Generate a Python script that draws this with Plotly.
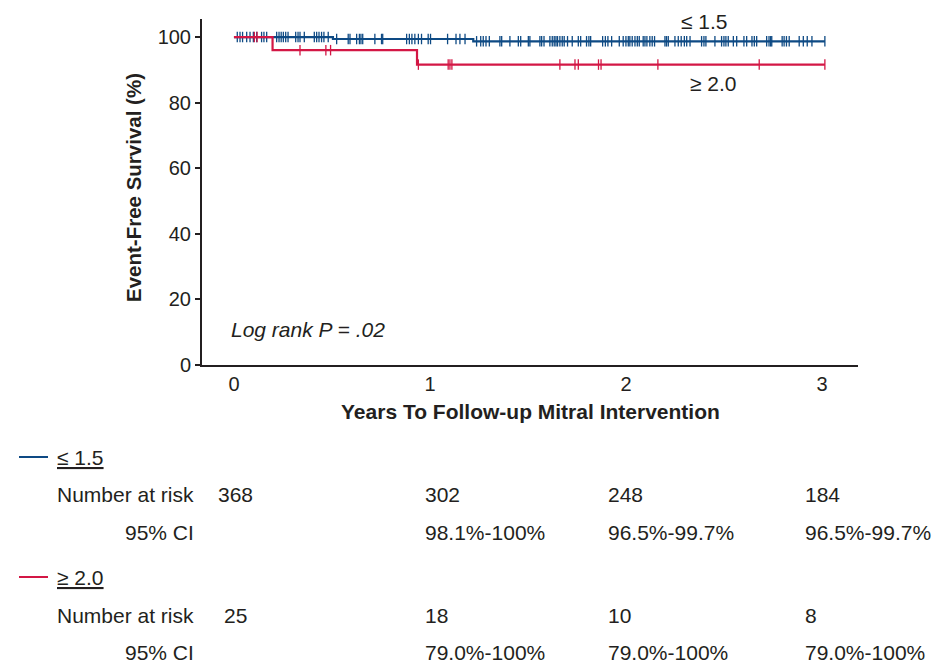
import numpy as np
import plotly.graph_objects as go

# ---------------- data ----------------
group_labels = ["≤ 1.5", "≥ 2.0"]

# Kaplan-Meier step curves (years, survival %)
blue_step_t = [0.0, 0.505, 1.221, 3.015]
blue_step_s = [100.0, 99.4, 98.7, 98.7]
red_step_t = [0.0, 0.197, 0.934, 3.015]
red_step_s = [100.0, 96.0, 91.6, 91.6]

# censoring times (years)
blue_censor = [0.017, 0.031, 0.044, 0.065, 0.082, 0.099, 0.116, 0.141, 0.153, 0.167,
               0.218, 0.230, 0.241, 0.252, 0.264, 0.276, 0.315, 0.327, 0.337, 0.359,
               0.410, 0.422, 0.434, 0.447, 0.459, 0.481, 0.524, 0.583, 0.592, 0.626,
               0.640, 0.648, 0.657, 0.719, 0.753, 0.759, 0.881, 0.895, 0.908, 0.923,
               0.941, 0.957, 0.991, 1.003, 1.090, 1.133, 1.153, 1.179, 1.238, 1.259,
               1.272, 1.286, 1.303, 1.357, 1.366, 1.408, 1.451, 1.463, 1.502, 1.510,
               1.561, 1.570, 1.582, 1.612, 1.624, 1.634, 1.643, 1.651, 1.663, 1.675,
               1.685, 1.702, 1.726, 1.757, 1.769, 1.799, 1.811, 1.820, 1.881, 1.895,
               1.908, 1.927, 1.966, 1.986, 2.000, 2.012, 2.020, 2.032, 2.046, 2.058,
               2.068, 2.088, 2.097, 2.107, 2.122, 2.134, 2.146, 2.199, 2.207, 2.216,
               2.250, 2.267, 2.282, 2.298, 2.310, 2.327, 2.386, 2.398, 2.408, 2.454,
               2.488, 2.500, 2.510, 2.522, 2.548, 2.565, 2.602, 2.616, 2.643, 2.655,
               2.667, 2.718, 2.730, 2.738, 2.744, 2.797, 2.807, 2.819, 2.833, 2.884,
               2.905, 2.925, 2.949, 3.015]
red_censor = [0.104, 0.118, 0.337, 0.469, 0.493, 0.941, 1.093, 1.102, 1.112, 1.663,
              1.740, 1.757, 1.860, 1.873, 2.163, 2.680, 3.015]

x_ticks = [0, 1, 2, 3]
y_ticks = [0, 20, 40, 60, 80, 100]

risk_blue = ["368", "302", "248", "184"]
ci_blue = ["", "98.1%-100%", "96.5%-99.7%", "96.5%-99.7%"]
risk_red = ["25", "18", "10", "8"]
ci_red = ["", "79.0%-100%", "79.0%-100%", "79.0%-100%"]

# ---------------- style ----------------
BLUE = "#0e4a84"
RED = "#d31745"
TXT = "#231f20"
FONT = "Liberation Sans, Arial, Helvetica, sans-serif"
FS = 21

W, H = 933, 663
L, R, T, B = 202, 858, 19, 365


def px(xp):
    return (xp - L) / (R - L)


def py(yp):
    return (B - yp) / (B - T)


def km_at(times, steps_t, steps_s):
    idx = np.searchsorted(np.array(steps_t), np.array(times), side="right") - 1
    return list(np.array(steps_s)[idx])


fig = go.Figure()

for st, ss, cens, col in [(blue_step_t, blue_step_s, blue_censor, BLUE),
                          (red_step_t, red_step_s, red_censor, RED)]:
    fig.add_trace(go.Scatter(x=st, y=ss, mode="lines", line=dict(color=col, width=2.2, shape="hv"),
                             showlegend=False, hoverinfo="skip"))
    fig.add_trace(go.Scatter(x=cens, y=km_at(cens, st, ss), mode="markers",
                             marker=dict(symbol="line-ns", size=7.5, line=dict(color=col, width=1.3)),
                             showlegend=False, hoverinfo="skip"))

fig.update_xaxes(range=[-0.163, 3.184], tickvals=x_ticks, showgrid=False, zeroline=False,
                 showline=True, linecolor=TXT, linewidth=2, ticks="",
                 tickfont=dict(family=FONT, size=20, color=TXT))
fig.update_yaxes(range=[0, 105.5], tickvals=y_ticks, showgrid=False, zeroline=False,
                 showline=True, linecolor=TXT, linewidth=2, ticks="outside", ticklen=5,
                 tickwidth=1.5, tickcolor=TXT, tickfont=dict(family=FONT, size=20, color=TXT))

ann = []


def text(x, y, s, xanchor="left", **kw):
    ann.append(dict(x=px(x), y=py(y), xref="paper", yref="paper", text=s, showarrow=False,
                    xanchor=xanchor, yanchor="middle",
                    font=dict(family=FONT, size=kw.pop("size", FS), color=TXT), **kw))


# in-plot labels
text(704, 21, group_labels[0], xanchor="center")
text(713, 83, group_labels[1], xanchor="center")
text(229, 329, "<i>Log rank P = .02</i>")
# axis titles
text(530, 411, "<b>Years To Follow-up Mitral Intervention</b>", xanchor="center")
text(133, 188, "<b>Event-Free Survival (%)</b>", xanchor="center", textangle=-90, size=20.5)

# risk table
col_x = [None, 423, 606, 803]
first_x = [235, 235]
rows = [(457, 494, 532, risk_blue, ci_blue, BLUE, group_labels[0]),
        (577, 615, 652, risk_red, ci_red, RED, group_labels[1])]
shapes = []
for ly, ry, cy, risk, ci, col, lab in rows:
    shapes.append(dict(type="line", xref="paper", yref="paper", x0=px(19), x1=px(48),
                       y0=py(ly), y1=py(ly), line=dict(color=col, width=2)))
    text(55, ly, "<u>" + lab + "</u>")
    text(55, ry, "Number at risk")
    text(123, cy, "95% CI")
    text(first_x[0], ry, risk[0], xanchor="center")
    for i in range(1, 4):
        text(col_x[i], ry, risk[i])
        text(col_x[i], cy, ci[i])

fig.update_layout(width=W, height=H, margin=dict(l=L, r=W - R, t=T, b=H - B),
                  paper_bgcolor="white", plot_bgcolor="white", annotations=ann, shapes=shapes,
                  font=dict(family=FONT, size=FS, color=TXT))

fig.write_html("out.html")
